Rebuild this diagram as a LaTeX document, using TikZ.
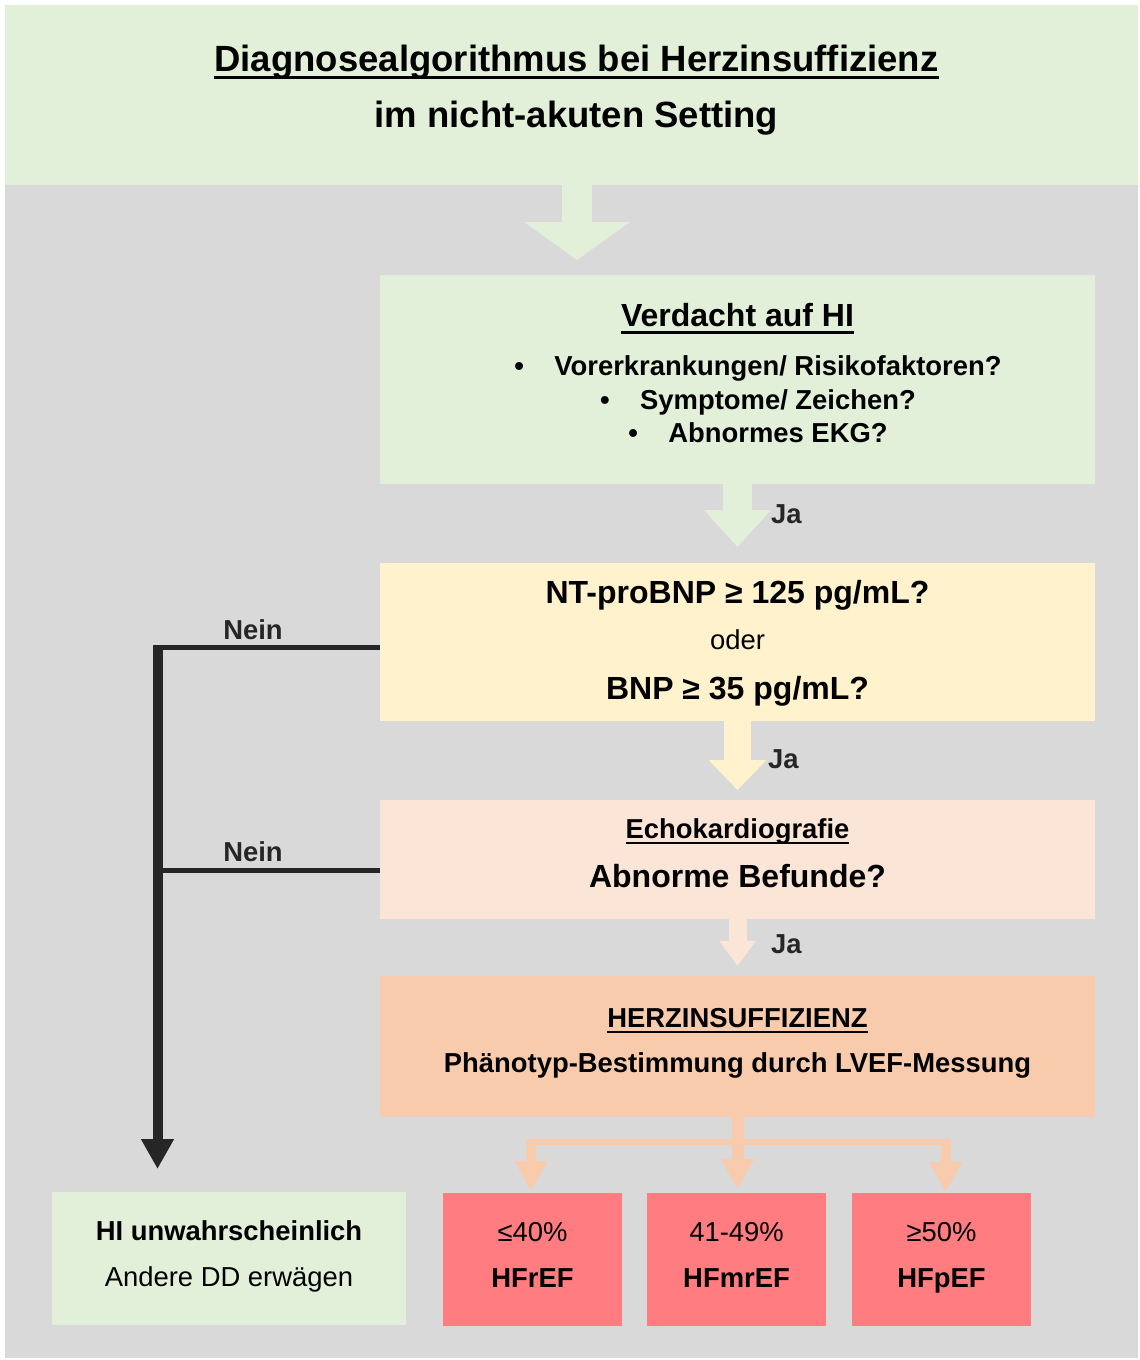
\documentclass[tikz,border=0pt]{standalone}
\usepackage{fontspec}
\setmainfont{Liberation Sans}
\usetikzlibrary{arrows.meta,calc}
\definecolor{bgray}{HTML}{D9D9D9}
\definecolor{lgreen}{HTML}{E2F0D9}
\definecolor{lyellow}{HTML}{FFF2CC}
\definecolor{lpeach}{HTML}{FBE5D6}
\definecolor{lorange}{HTML}{F8CBAD}
\definecolor{lred}{HTML}{FF7C80}
\definecolor{dgray}{HTML}{262626}
\newcommand\myul[1]{\setbox0\hbox{#1}\rlap{\rule[-0.21em]{\wd0}{0.085em}}\box0}
\tikzset{
  box/.style={rectangle, draw=none, inner sep=0pt, outer sep=0pt},
  fS/.style={font=\fontsize{27.4}{33}\selectfont, inner sep=0pt, text height=19.6pt, text depth=0pt},
  fM/.style={font=\fontsize{32}{38}\selectfont, inner sep=0pt, text height=22.9pt, text depth=0pt},
  fL/.style={font=\fontsize{36.5}{44}\selectfont, inner sep=0pt, text height=26.1pt, text depth=0pt},
  lbl/.style={fS, text=dgray, font=\fontsize{27.4}{33}\selectfont\bfseries},
  blockarrow/.style n args={4}{line width=#1, -{Triangle[width=#2 0 0,length=#3 0 0]}, shorten >=#4},
}
\begin{document}
\begin{tikzpicture}[x=1pt,y=-1pt]
\useasboundingbox (0,0) rectangle (1140,1360);
\fill[white] (0,0) rectangle (1140,1360);
\fill[bgray] (5,185) rectangle (1138,1358);

% boxes
\node[box, fill=lgreen, minimum width=1133pt, minimum height=180pt] (title) at (571.5,95) {};
\node[box, fill=lgreen, minimum width=715pt, minimum height=209pt] (v) at (737.5,379.5) {};
\node[box, fill=lyellow, minimum width=715pt, minimum height=158pt] (bnp) at (737.5,642) {};
\node[box, fill=lpeach, minimum width=715pt, minimum height=119pt] (echo) at (737.5,859.5) {};
\node[box, fill=lorange, minimum width=715pt, minimum height=141pt] (herz) at (737.5,1046.5) {};
\node[box, fill=lgreen, minimum width=354pt, minimum height=133pt] (hi) at (229,1258.5) {};
\node[box, fill=lred, minimum width=179pt, minimum height=133pt] (hfr) at (532.5,1259.5) {};
\node[box, fill=lred, minimum width=179pt, minimum height=133pt] (hfm) at (736.5,1259.5) {};
\node[box, fill=lred, minimum width=179pt, minimum height=133pt] (hfp) at (941.5,1259.5) {};

% block arrows down the main path
\coordinate (ta) at (577,185);
\draw[lgreen, blockarrow={30pt}{104pt}{38pt}{15pt}] (title.south -| ta) -- (v.north -| ta);
\draw[lgreen, blockarrow={29pt}{65pt}{37pt}{16pt}] (v.south) -- (bnp.north);
\draw[lyellow, blockarrow={27pt}{56pt}{30pt}{10pt}] (bnp.south) -- (echo.north);
\draw[lpeach, blockarrow={18pt}{35pt}{25pt}{10pt}] (echo.south) -- (herz.north);

% branch to phenotypes
\coordinate (bar) at (737.5,1142);
\coordinate (brl) at ($(hfr.north |- bar)+(-1.5,0)$);
\coordinate (brr) at ($(hfp.north |- bar)+(4,0)$);
\draw[lorange, line width=6pt] ($(brl)+(-5,0)$) -- ($(brr)+(5,0)$);
\draw[lorange, blockarrow={12pt}{31pt}{30pt}{4pt}] (herz.south) -- (herz.south |- hfm.north);
\draw[lorange, blockarrow={10pt}{31pt}{30pt}{2pt}] ($(brl)+(0,-3)$) -- (brl |- hfr.north);
\draw[lorange, blockarrow={10pt}{31pt}{30pt}{1pt}] ($(brr)+(0,-3)$) -- (brr |- hfp.north);

% Nein connector
\coordinate (nj) at (157.5,644.5);
\coordinate (b1) at ($(bnp.west)+(0,5)$);
\coordinate (b2) at ($(echo.west)+(0,10.5)$);
\draw[dgray, line width=5pt] (b1) -- (b1 -| nj);
\draw[dgray, line width=5pt] (b2) -- (b2 -| nj);
\draw[dgray, blockarrow={10pt}{31pt}{30pt}{23pt}] (nj) -- (nj |- hi.north);

% labels
\node[lbl] (n1) at (253,629.5) {Nein};
\node[lbl] (n2) at (253,851.5) {Nein};
\node[lbl, anchor=west] (j1) at (771,513.5) {Ja};
\node[lbl, anchor=west] (j2) at (768,758.5) {Ja};
\node[lbl, anchor=west] (j3) at (771,943.5) {Ja};

% texts
\node[fL] (t1) at (576.5,58) {\bfseries\myul{Diagnosealgorithmus bei Herzinsuffizienz}};
\node[fL] (t2) at (576.5,114.5) {\bfseries im nicht-akuten Setting};
\node[fM] (vt) at (737.5,315.5) {\bfseries\myul{Verdacht auf HI}};
\node[fS] (vb1) at (758,365.5) {\bfseries\makebox[40pt][l]{•}Vorerkrankungen/ Risikofaktoren?};
\node[fS] (vb2) at (758,399.5) {\bfseries\makebox[40pt][l]{•}Symptome/ Zeichen?};
\node[fS] (vb3) at (758,432.5) {\bfseries\makebox[40pt][l]{•}Abnormes EKG?};
\node[fM] (bt1) at (737.5,592.5) {\bfseries NT-proBNP ≥ 125 pg/mL?};
\node[fS] (bt2) at (737.5,639.5) {oder};
\node[fM] (bt3) at (737.5,688.5) {\bfseries BNP ≥ 35 pg/mL?};
\node[fS] (et1) at (737.5,828.5) {\bfseries\myul{Echokardiografie}};
\node[fM] (et2) at (737.5,876.5) {\bfseries Abnorme Befunde?};
\node[fS] (ht1) at (737.5,1017.5) {\bfseries\myul{HERZINSUFFIZIENZ}};
\node[fS] (ht2) at (737.5,1062.5) {\bfseries Phänotyp-Bestimmung durch LVEF-Messung};
\node[fS] (it1) at (229,1230.5) {\bfseries HI unwahrscheinlich};
\node[fS] (it2) at (229,1276.5) {Andere DD erwägen};
\node[fS] (r1a) at (hfr |- 0,1232) {≤40\%};
\node[fS] (r1b) at (hfr |- 0,1278) {\bfseries HFrEF};
\node[fS] (r2a) at (hfm |- 0,1232) {41-49\%};
\node[fS] (r2b) at (hfm |- 0,1278) {\bfseries HFmrEF};
\node[fS] (r3a) at (hfp |- 0,1232) {≥50\%};
\node[fS] (r3b) at (hfp |- 0,1278) {\bfseries HFpEF};
\end{tikzpicture}
\end{document}
